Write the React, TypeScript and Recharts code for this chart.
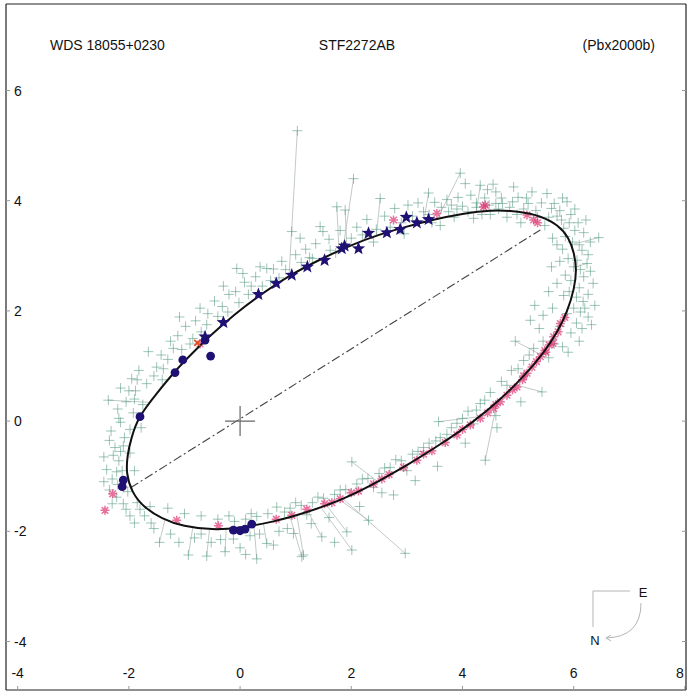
import { ScatterChart, Scatter, XAxis, YAxis, ReferenceLine } from "recharts";

const xTicks = [-4, -2, 0, 2, 4, 6, 8];
const yTicks = [-4, -2, 0, 2, 4, 6];

const titleLeft = "WDS 18055+0230";
const titleMid = "STF2272AB";
const titleRight = "(Pbx2000b)";

// fitted orbit
const orbit = [
  [3.0, -0.8], [2.4, -1.14], [1.8, -1.43], [1.2, -1.65], [0.6, -1.82], [0.0, -1.93],
  [-0.5, -1.96], [-1.0, -1.9], [-1.4, -1.76], [-1.72, -1.55], [-1.93, -1.28], [-2.03, -0.95],
  [-2.02, -0.62], [-1.95, -0.3], [-1.8, 0.08], [-1.5, 0.5], [-1.17, 0.9], [-0.85, 1.24],
  [-0.5, 1.58], [-0.1, 1.93], [0.3, 2.24], [0.9, 2.64], [1.5, 2.96], [2.0, 3.19],
  [2.5, 3.38], [3.0, 3.53], [3.5, 3.66], [4.0, 3.76], [4.5, 3.82], [5.0, 3.8],
  [5.4, 3.71], [5.7, 3.55], [5.9, 3.32], [6.0, 3.05], [6.04, 2.75], [6.0, 2.4],
  [5.88, 2.0], [5.7, 1.62], [5.45, 1.24], [5.1, 0.82], [4.7, 0.42], [4.2, 0.0],
  [3.6, -0.42], [3.0, -0.8],
];

// line of apsides
const apsides = [
  [-1.97, -1.21],
  [5.4, 3.47],
];

const visualMeasures = [
  [-2.37, 0.38], [-2.2, 0.22], [-2.05, 0.35], [-1.92, 0.15], [-2.15, -0.02], [-2.32, -0.18],
  [-2.08, -0.3], [-2.25, -0.48], [-1.98, -0.58], [-2.18, -0.72], [-2.4, -0.88], [-2.12, -0.9],
  [-2.3, -1.05], [-2.02, -1.28], [-2.22, -1.38], [-1.85, -1.48], [-2.05, -1.6], [-1.72, -1.72],
  [-1.9, -1.85], [-1.55, -1.95], [-1.78, -0.12], [-1.88, 0.55], [-1.68, 0.68], [-1.82, 0.92],
  [-1.95, 0.77], [-2.15, 0.6], [-1.98, -0.15], [-2.28, -0.62], [-2.1, -1.5], [-1.62, -1.55],
  [-2.18, 0.05], [-2.0, 0.55], [-2.35, -0.35], [-2.15, -0.55], [-2.45, -0.65], [-2.22, -0.92],
  [-2.35, -1.25], [-2.1, -1.2], [-1.98, -1.72], [-1.8, -1.6], [-2.3, -1.5], [-1.9, -0.9],
  [-2.45, -1.1], [-1.75, 0.3], [-1.9, 0.4], [-2.1, -0.45], [-2.2, -1.15], [-1.85, 0.75],
  [-1.65, 1.26], [-1.5, 0.98], [-1.42, 1.2], [-1.3, 1.12], [-1.25, 1.45], [-1.09, 1.89],
  [-1.12, 1.55], [-0.98, 1.72], [-0.85, 1.5], [-0.72, 2.05], [-0.8, 1.82], [-0.58, 1.95],
  [-0.46, 2.18], [-0.32, 2.08], [-0.2, 2.3], [-0.06, 2.77], [-0.08, 2.35], [0.08, 2.52],
  [0.2, 2.45], [0.36, 2.8], [0.48, 2.77], [0.28, 2.62], [0.6, 2.76], [0.75, 2.9],
  [0.7, 2.6], [0.93, 3.44], [1.08, 3.32], [1.0, 3.02], [1.18, 3.12], [1.3, 2.95],
  [1.44, 3.53], [1.49, 3.44], [1.36, 3.22], [1.6, 3.3], [1.72, 3.05], [1.74, 3.89],
  [1.89, 3.83], [1.8, 3.46], [-1.55, 0.82], [-1.38, 0.95], [-1.2, 1.32], [-1.05, 1.3],
  [-0.9, 1.4], [-0.7, 1.62], [-0.6, 1.75], [-0.4, 1.9], [-0.22, 1.98], [-0.02, 2.15],
  [0.15, 2.3], [0.4, 2.45], [0.55, 2.55], [0.82, 2.75], [1.1, 2.88], [1.25, 2.97],
  [1.62, 3.1], [-1.4, 0.75], [-0.3, 2.45], [0.05, 2.68],
  [2.04, 4.4], [2.1, 3.52], [2.28, 3.66], [2.4, 3.25], [2.52, 4.04], [2.6, 3.72],
  [2.78, 3.86], [2.95, 3.4], [3.02, 3.92], [3.2, 3.96], [3.39, 4.14], [3.5, 3.97],
  [3.6, 3.55], [3.72, 4.02], [3.85, 3.7], [3.96, 4.5], [4.05, 4.31], [3.92, 4.06],
  [4.15, 4.1], [4.2, 3.68], [4.32, 4.28], [4.4, 4.05], [4.5, 3.75], [4.6, 4.16],
  [4.72, 3.95], [4.8, 3.7], [4.92, 4.25], [5.0, 4.06], [5.05, 3.6], [5.18, 3.95],
  [5.25, 4.16], [5.32, 3.82], [5.42, 3.96], [5.52, 4.13], [5.48, 3.55], [3.62, 3.88],
  [3.8, 3.92], [4.0, 3.9], [4.1, 3.8], [4.25, 3.96], [4.35, 3.75], [4.48, 3.92],
  [4.55, 4.3], [4.65, 3.85], [4.85, 3.88], [4.98, 3.75], [5.1, 3.85], [5.15, 4.05],
  [4.7, 4.05], [4.45, 4.2], [3.3, 3.8], [3.45, 3.6], [3.1, 3.72], [2.9, 3.6],
  [2.7, 3.52], [2.45, 3.48], [2.2, 3.38], [2.0, 3.32], [3.75, 3.8], [4.25, 3.88],
  [5.35, 3.7], [3.9, 3.85], [4.6, 3.95], [4.9, 3.98], [3.4, 3.75],
  [5.6, 3.86], [5.7, 3.72], [5.62, 3.32], [5.88, 3.98], [5.92, 3.6], [6.02, 3.46],
  [6.18, 3.42], [6.45, 3.33], [5.8, 3.12], [6.1, 3.2], [6.26, 3.02], [6.06, 2.92],
  [5.75, 2.9], [6.24, 2.86], [5.85, 2.65], [6.18, 2.62], [6.35, 2.5], [5.7, 2.5],
  [6.1, 2.42], [6.26, 2.3], [5.82, 2.28], [6.17, 2.17], [6.0, 2.05], [5.62, 2.05],
  [6.26, 1.89], [6.05, 1.78], [5.45, 1.92], [5.95, 1.6], [6.1, 1.45], [5.22, 1.83],
  [5.38, 1.68], [5.8, 1.35], [5.55, 1.15], [4.95, 1.45], [5.55, 3.7], [5.65, 3.95],
  [5.75, 3.82], [5.82, 3.5], [5.95, 3.75], [6.08, 3.6], [5.98, 3.25], [6.15, 3.1],
  [6.3, 3.25], [5.9, 2.95], [6.12, 2.75], [6.3, 2.72], [5.95, 2.55], [6.05, 2.25],
  [6.2, 2.05], [5.88, 1.95], [6.15, 1.68], [5.75, 1.72], [5.9, 1.25], [5.65, 1.4],
  [6.38, 2.1], [6.32, 1.75], [5.7, 3.2], [5.6, 2.8], [5.55, 2.35], [5.3, 2.1],
  [5.45, 1.45], [6.02, 3.85], [5.8, 4.05], [6.22, 3.65], [5.85, 3.35], [6.0, 2.8],
  [5.92, 2.35], [6.12, 1.98], [5.78, 3.65],
  [5.28, 1.32], [5.1, 1.1], [4.88, 0.92], [4.7, 0.72], [5.43, 0.53], [4.5, 0.52],
  [4.32, 0.32], [4.1, 0.18], [3.57, -0.01], [3.9, -0.04], [3.72, -0.24], [3.52, -0.36],
  [3.3, -0.48], [3.1, -0.6], [2.9, -0.72], [2.01, -0.74], [2.7, -0.84], [2.5, -0.95],
  [2.3, -1.04], [2.1, -1.14], [1.9, -1.24], [1.7, -1.33], [1.5, -1.4], [1.3, -1.48],
  [1.1, -1.53], [0.9, -1.58], [0.66, -1.56], [0.5, -1.68], [0.3, -1.73], [0.1, -1.78],
  [-0.1, -1.82], [-0.4, -1.78], [-0.7, -1.72], [-1.0, -1.68], [-1.3, -1.58], [4.6, 0.1],
  [4.2, -0.05], [3.0, -0.9], [2.4, -1.2], [1.2, -1.7], [3.4, -0.4], [3.8, -0.12],
  [4.0, 0.05], [4.4, 0.38], [4.8, 0.65], [5.0, 0.95], [5.2, 1.2], [2.6, -0.85],
  [2.2, -1.05], [1.8, -1.25], [1.4, -1.38], [1.0, -1.48], [0.8, -1.65], [0.2, -1.68],
  [3.2, -0.55], [2.8, -0.7], [4.25, 0.2], [3.6, -0.3],
  [-1.25, -2.05], [-0.93, -2.43], [-0.82, -2.12], [-0.52, -2.2], [-0.27, -2.37], [-0.12, -2.14],
  [0.18, -2.08], [0.48, -2.22], [0.7, -2.0], [0.96, -2.04], [1.14, -2.43], [1.47, -2.1],
  [1.28, -1.86], [1.92, -2.01], [2.01, -2.34], [2.31, -1.8], [2.97, -2.4], [2.76, -1.34],
  [3.15, -1.08], [3.55, -0.82], [4.41, -0.71], [4.05, -0.4], [4.62, -0.12], [-1.45, -2.2],
  [-0.6, -2.45], [0.3, -2.5], [1.11, -2.46], [5.05, 0.35], [1.03, 5.27], [-1.1, -2.2],
  [-0.7, -2.05], [-0.35, -2.15], [0.0, -2.3], [0.35, -2.05], [0.6, -2.25], [0.85, -1.95],
  [1.6, -1.75], [2.15, -1.55], [2.55, -1.3], [-1.6, -1.85], [-0.2, -1.72], [1.7, -2.2],
  [0.1, -2.42],
];

// O-C segments: measure -> predicted position
const residuals = [
  [1.03, 5.27, 0.88, 2.62], [2.04, 4.4, 1.85, 3.12], [1.74, 3.89, 1.78, 3.09],
  [1.89, 3.83, 1.92, 3.15], [2.52, 4.04, 2.45, 3.36], [3.39, 4.14, 3.3, 3.61],
  [3.96, 4.5, 3.55, 3.67], [4.32, 4.28, 4.25, 3.8], [6.45, 3.33, 5.95, 3.2],
  [6.24, 2.86, 6.03, 2.8], [4.41, -0.71, 4.62, 0.35], [5.43, 0.53, 4.95, 0.66],
  [3.57, -0.01, 4.3, 0.08], [1.11, -2.46, 0.9, -1.74], [2.01, -2.34, 1.45, -1.56],
  [2.97, -2.4, 1.85, -1.41], [2.31, -1.8, 1.78, -1.42], [1.92, -2.01, 1.55, -1.52],
  [1.47, -2.1, 1.22, -1.64], [2.01, -0.74, 2.48, -1.1], [-0.93, -2.43, -0.85, -1.93],
  [-0.27, -2.37, -0.25, -1.95], [0.48, -2.22, 0.42, -1.86], [1.14, -2.43, 1.02, -1.7],
  [-2.37, 0.38, -1.62, 0.34], [4.95, 1.45, 5.42, 1.2], [-0.6, -2.45, -0.55, -1.96],
  [0.3, -2.5, 0.25, -1.89], [-1.45, -2.2, -1.35, -1.78],
];

const speckleMeasures = [
  [-2.43, -1.62], [-2.29, -1.32], [-1.14, -1.8], [-0.39, -1.9], [0.65, -1.78], [0.93, -1.71],
  [1.2, -1.6], [1.52, -1.5], [1.65, -1.48], [1.8, -1.41], [2.0, -1.3], [2.13, -1.27],
  [2.4, -1.14], [2.55, -1.05], [2.68, -0.97], [2.94, -0.84], [3.18, -0.71], [3.3, -0.6],
  [3.45, -0.54], [3.69, -0.39], [3.9, -0.25], [4.0, -0.15], [4.14, -0.07], [4.32, 0.05],
  [4.45, 0.15], [4.56, 0.23], [4.6, 0.3], [4.68, 0.35], [4.8, 0.47], [4.9, 0.57],
  [4.98, 0.62], [5.08, 0.75], [5.1, 0.82], [5.16, 0.87], [5.25, 0.98], [5.33, 1.08],
  [5.4, 1.17], [5.5, 1.25], [5.48, 1.28], [5.56, 1.38], [5.63, 1.41], [5.64, 1.53],
  [5.72, 1.62], [5.76, 1.77], [5.84, 1.88], [2.76, 3.65], [3.54, 3.77], [4.38, 3.89],
  [4.41, 3.92], [5.16, 3.74], [5.28, 3.65], [5.35, 3.6], [-0.72, 1.4],
];

const hipparcosDots = [
  [-2.12, -1.19], [-2.1, -1.07], [-1.8, 0.08], [-1.17, 0.88], [-1.03, 1.11], [-0.53, 1.18],
  [-0.63, 1.47], [-0.12, -1.98], [0.0, -1.99], [0.09, -1.96], [0.21, -1.87],
];

const aoStars = [
  [-0.63, 1.53], [-0.3, 1.79], [0.33, 2.3], [0.65, 2.5], [0.93, 2.65], [1.21, 2.8],
  [1.52, 2.92], [1.83, 3.13], [1.88, 3.18], [2.13, 3.13], [2.31, 3.41], [2.64, 3.42],
  [2.88, 3.48], [2.99, 3.7], [3.18, 3.6], [3.39, 3.66],
];

const redMeasures = [[-0.77, 1.42]];
const primary = [[0, 0]];

const pts = (arr: number[][]) => arr.map(([x, y]) => ({ x, y }));

const FONT = "'Liberation Sans', Arial, Helvetica, sans-serif";

const GreenCross = (p: any) => (
  <path
    d={`M${p.cx - 5},${p.cy}h10M${p.cx},${p.cy - 5}v10`}
    stroke="#4f977b"
    strokeOpacity={0.62}
    strokeWidth={0.9}
    fill="none"
  />
);

const PinkMark = (p: any) => (
  <path
    d={`M${p.cx - 4.5},${p.cy}h9M${p.cx},${p.cy - 4.5}v9M${p.cx - 3.3},${p.cy - 3.3}l6.6,6.6M${p.cx - 3.3},${p.cy + 3.3}l6.6,-6.6`}
    stroke="#db3674"
    strokeOpacity={0.7}
    strokeWidth={1.5}
    fill="none"
  />
);

const RedMark = (p: any) => (
  <path
    d={`M${p.cx - 3},${p.cy - 3}l6,6M${p.cx - 3},${p.cy + 3}l6,-6`}
    stroke="#e34a22"
    strokeWidth={1.6}
    fill="none"
  />
);

const Dot = (p: any) => <circle cx={p.cx} cy={p.cy} r={4.4} fill="#1f1173" />;

const Star = (p: any) => {
  let d = "";
  for (let i = 0; i < 10; i++) {
    const a = -Math.PI / 2 + (i * Math.PI) / 5;
    const r = i % 2 === 0 ? 7 : 3;
    d += (i === 0 ? "M" : "L") + (p.cx + r * Math.cos(a)).toFixed(1) + "," + (p.cy + r * Math.sin(a)).toFixed(1);
  }
  return <path d={d + "Z"} fill="#1f1173" />;
};

const BigCross = (p: any) => (
  <path
    d={`M${p.cx - 15},${p.cy}h30M${p.cx},${p.cy - 15}v30`}
    stroke="#666"
    strokeWidth={1.2}
    fill="none"
  />
);

const Nothing = () => <g />;

const XTick = (p: any) => {
  const last = p.payload.value === xTicks[xTicks.length - 1];
  return (
    <text
      x={last ? p.x - 1 : p.x}
      y={p.y}
      textAnchor={last ? "end" : "middle"}
      fontSize={14}
      fontFamily={FONT}
      fill="#111"
    >
      {p.payload.value}
    </text>
  );
};

const YTick = (p: any) => (
  <text x={p.x} y={p.y} dy={5} textAnchor="start" fontSize={14} fontFamily={FONT} fill="#111">
    {p.payload.value}
  </text>
);

export default function App() {
  const xDomain = [-4.21, 8.02];
  const yDomain = [-4.88, 7.57];
  const axisLine = { stroke: "#222", strokeWidth: 1.2 };
  const tickLine = { stroke: "#999" };

  return (
    <div style={{ position: "absolute", left: 0, top: 0, width: 691, height: 694, background: "#fff" }}>
      <ScatterChart width={691} height={694} margin={{ top: 4, right: 5, bottom: 4, left: 6 }}>
        <XAxis
          xAxisId={0}
          type="number"
          dataKey="x"
          domain={xDomain}
          allowDataOverflow
          ticks={xTicks}
          interval={0}
          mirror
          tickSize={4}
          tickMargin={8}
          axisLine={axisLine}
          tickLine={tickLine}
          tick={XTick}
        />
        <XAxis
          xAxisId="top"
          orientation="top"
          type="number"
          domain={xDomain}
          allowDataOverflow
          ticks={xTicks}
          interval={0}
          mirror
          tickSize={4}
          axisLine={axisLine}
          tickLine={tickLine}
          tick={Nothing}
        />
        <YAxis
          yAxisId={0}
          type="number"
          dataKey="y"
          domain={yDomain}
          allowDataOverflow
          ticks={yTicks}
          interval={0}
          mirror
          tickSize={4}
          tickMargin={4}
          axisLine={axisLine}
          tickLine={tickLine}
          tick={YTick}
        />
        <YAxis
          yAxisId="right"
          orientation="right"
          type="number"
          domain={yDomain}
          allowDataOverflow
          ticks={yTicks}
          interval={0}
          mirror
          tickSize={4}
          axisLine={axisLine}
          tickLine={tickLine}
          tick={Nothing}
        />

        {residuals.map(([x, y, ox, oy], i) => (
          <ReferenceLine
            key={`r${i}`}
            segment={[{ x, y }, { x: ox, y: oy }]}
            stroke="#aab5b0"
            strokeWidth={0.9}
            strokeOpacity={0.8}
          />
        ))}
        <ReferenceLine
          segment={[
            { x: apsides[0][0], y: apsides[0][1] },
            { x: apsides[1][0], y: apsides[1][1] },
          ]}
          stroke="#444"
          strokeWidth={1.1}
          strokeDasharray="9 3 2 3"
        />

        <Scatter data={pts(visualMeasures)} shape={GreenCross} isAnimationActive={false} />
        <Scatter data={pts(speckleMeasures)} shape={PinkMark} isAnimationActive={false} />
        <Scatter
          data={pts(orbit)}
          shape={Nothing}
          line={{ stroke: "#111", strokeWidth: 2 }}
          lineJointType="natural"
          isAnimationActive={false}
        />
        <Scatter data={pts(redMeasures)} shape={RedMark} isAnimationActive={false} />
        <Scatter data={pts(hipparcosDots)} shape={Dot} isAnimationActive={false} />
        <Scatter data={pts(aoStars)} shape={Star} isAnimationActive={false} />
        <Scatter data={pts(primary)} shape={BigCross} isAnimationActive={false} />
      </ScatterChart>

      <svg
        width={691}
        height={694}
        style={{ position: "absolute", left: 0, top: 0, pointerEvents: "none" }}
      >
        <g fontFamily={FONT} fontSize={14} fill="#111">
          <text x={50} y={50}>{titleLeft}</text>
          <text x={357} y={50} textAnchor="middle">{titleMid}</text>
          <text x={655} y={50} textAnchor="end">{titleRight}</text>
        </g>
        <g stroke="#b5b5b5" strokeWidth={1} fill="none">
          <path d="M630,591H593V627" />
          <path d="M641,603Q641,637 606,638" />
          <path d="M611,635L606,638L611,641" />
        </g>
        <g fontFamily={FONT} fontSize={13} fill="#111" textAnchor="middle">
          <text x={643} y={597}>E</text>
          <text x={595} y={645}>N</text>
        </g>
      </svg>
    </div>
  );
}
